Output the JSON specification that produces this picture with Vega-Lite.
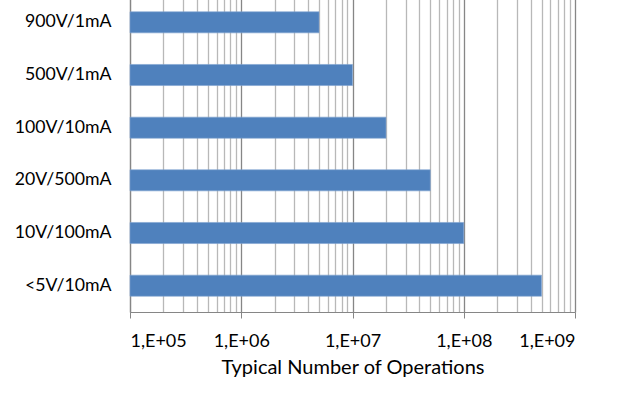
{
  "$schema": "https://vega.github.io/schema/vega-lite/v6.json",
  "width": 445,
  "height": 316,
  "autosize": {"type": "none"},
  "padding": {"left": 130, "top": -4, "right": 53, "bottom": 83},
  "background": "white",
  "data": {"values": [
    {"label": "900V/1mA", "ops": 5000000},
    {"label": "500V/1mA", "ops": 10000000},
    {"label": "100V/10mA", "ops": 20000000},
    {"label": "20V/500mA", "ops": 50000000},
    {"label": "10V/100mA", "ops": 100000000},
    {"label": "<5V/10mA", "ops": 500000000}
  ]},
  "mark": {"type": "bar", "color": "#4F81BD", "stroke": "#7fa3d0", "strokeWidth": 0.6},
  "encoding": {
    "y": {
      "field": "label", "type": "nominal", "sort": null,
      "scale": {"paddingInner": 0.6, "paddingOuter": 0.3},
      "axis": {
        "title": null, "ticks": false, "labelPadding": 19,
        "labelFont": "Lato", "labelFontSize": 17.7, "labelColor": "#000000",
        "domainColor": "#868686", "domainWidth": 1.2, "grid": false
      }
    },
    "x": {
      "field": "ops", "type": "quantitative",
      "scale": {"type": "log", "domain": [100000, 1000000000], "nice": false},
      "axis": {
        "title": "Typical Number of Operations",
        "titleFont": "Lato", "titleFontSize": 20, "titleFontWeight": "normal", "titleColor": "#000000",
        "titlePadding": 7,
        "values": [100000,200000,300000,400000,500000,600000,700000,800000,900000,
                   1000000,2000000,3000000,4000000,5000000,6000000,7000000,8000000,9000000,
                   10000000,20000000,30000000,40000000,50000000,60000000,70000000,80000000,90000000,
                   100000000,200000000,300000000,400000000,500000000,600000000,700000000,800000000,900000000,
                   1000000000],
        "labelExpr": "abs(log(datum.value)/LN10 - round(log(datum.value)/LN10)) < 0.001 ? '1,E+0' + round(log(datum.value)/LN10) : ''",
        "labelFont": "Lato", "labelFontSize": 18, "labelColor": "#000000", "labelPadding": 14,
        "labelOverlap": false,
        "grid": true,
        "gridColor": {"condition": {"test": "abs(log(datum.value)/LN10 - round(log(datum.value)/LN10)) < 0.001", "value": "#868686"}, "value": "#b8b8b8"},
        "gridWidth": 1.3,
        "tickSize": 6,
        "tickColor": "#868686",
        "tickOpacity": {"condition": {"test": "abs(log(datum.value)/LN10 - round(log(datum.value)/LN10)) < 0.001", "value": 1}, "value": 0},
        "domainColor": "#868686", "domainWidth": 1.2
      }
    },
    "x2": {"datum": 100000}
  },
  "config": {"view": {"stroke": null}}
}
